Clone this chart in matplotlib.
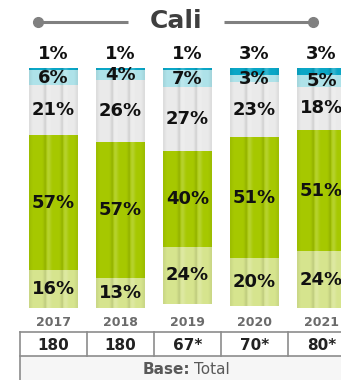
import numpy as np
import matplotlib
matplotlib.use("Agg")
import matplotlib.pyplot as plt
from matplotlib import transforms

# ---- data -------------------------------------------------------------
years = ["2017", "2018", "2019", "2020", "2021"]
bases = ["180", "180", "67*", "70*", "80*"]
# segments listed from the top of each bar downward
seg_top = [1, 1, 1, 3, 3]          # dark teal
seg_cyan = [6, 4, 7, 3, 5]         # light cyan
seg_gray = [21, 26, 27, 23, 18]    # light gray
seg_green = [57, 57, 40, 51, 51]   # green
seg_lgreen = [16, 13, 24, 20, 24]  # light green
title = "Cali"

colors = ["#0AA6C6", "#AEE2E9", "#EAEAEA", "#A6C800", "#D6E48E"]
segments = [seg_top, seg_cyan, seg_gray, seg_green, seg_lgreen]

W, H = 341, 380
fig = plt.figure(figsize=(W / 100, H / 100), dpi=100)
fig.patch.set_facecolor("white")

# decoration layer in pixel units (y grows downward)
deco = fig.add_axes([0, 0, 1, 1])
deco.set_xlim(0, W)
deco.set_ylim(H, 0)
deco.axis("off")

# bar layer: 0 % at the top, stacking downward
ax = fig.add_axes([20 / W, 62 / H, 335 / W, 250 / H])
ax.set_xlim(-0.5, 4.5)
ax.set_ylim(105, 0)
ax.axis("off")
ax.set_zorder(2)
ax.patch.set_alpha(0)

x = np.arange(len(years))
bw = 0.72
bottom = np.zeros(len(years))
for vals, col in zip(segments, colors):
    vals = np.array(vals, dtype=float)
    ax.bar(x, vals, bw, bottom=bottom, color=col, edgecolor="none", zorder=2)
    bottom += vals

# vertical shading stripes across each bar
prof_x = np.linspace(0, 1, 96)
shade = (0.10 * np.exp(-((prof_x - 0.33) / 0.035) ** 2)
         + 0.10 * np.exp(-((prof_x - 0.68) / 0.035) ** 2)
         + 0.06 * np.exp(-((prof_x - 0.0) / 0.05) ** 2)
         + 0.06 * np.exp(-((prof_x - 1.0) / 0.05) ** 2))
light = (0.18 * np.exp(-((prof_x - 0.40) / 0.05) ** 2)
         + 0.18 * np.exp(-((prof_x - 0.75) / 0.05) ** 2))
rgba = np.zeros((1, prof_x.size, 4))
rgba[0, :, :3] = np.where(shade[:, None] > light[:, None], 0.0, 1.0)
rgba[0, :, 3] = np.maximum(shade, light)
for xi, tot in zip(x, bottom):
    ax.imshow(rgba, extent=(xi - bw / 2, xi + bw / 2, tot, 0),
              aspect="auto", interpolation="bilinear", zorder=3)
ax.set_xlim(-0.5, 4.5)
ax.set_ylim(105, 0)

# value labels
lab_kw = dict(ha="center", va="center", fontsize=13, fontweight="bold",
              color="#111111", zorder=5)
for i in x:
    ax.annotate(f"{seg_top[i]}%", (i, 0), xytext=(0, 14),
                textcoords="offset pixels", annotation_clip=False, **lab_kw)
    start = seg_top[i]
    for vals in segments[1:]:
        v = vals[i]
        ax.text(i, start + v / 2, f"{v}%", clip_on=False, **lab_kw)
        start += v

# title with side rules
deco.text(176, 21, title, ha="center", va="center", fontsize=18,
          fontweight="bold", color="#3F3F3F")
deco.plot([38, 128], [22, 22], color="#808080", lw=2.2, solid_capstyle="butt")
deco.plot([224, 313], [22, 22], color="#808080", lw=2.2, solid_capstyle="butt")
deco.plot([38, 313], [22, 22], ls="none", marker="o", ms=7, color="#808080")

# year labels and base table
bt = transforms.blended_transform_factory(ax.transData, deco.transData)
for i, (yr, b) in enumerate(zip(years, bases)):
    deco.text(i, 322, yr, transform=bt, ha="center", va="center",
              fontsize=9, fontweight="bold", color="#6B6B6B")
    deco.text(i, 345, b, transform=bt, ha="center", va="center",
              fontsize=11, fontweight="bold", color="#222222")

line_kw = dict(color="#8C8C8C", lw=1.2, transform=bt)
deco.add_patch(plt.Rectangle((-0.5, 356), 6, 30, transform=bt,
                             facecolor="#F6F6F6", edgecolor="none", zorder=1))
deco.add_line(plt.Line2D([-0.5, 5.5], [332, 332], **line_kw))
deco.add_line(plt.Line2D([-0.5, 5.5], [356, 356], **line_kw))
deco.add_line(plt.Line2D([-0.5, -0.5], [332, 390], **line_kw))
for i in range(1, len(years) + 1):
    deco.add_line(plt.Line2D([i - 0.5, i - 0.5], [332, 356], **line_kw))

deco.text(190, 369, "Base:", ha="right", va="center", fontsize=11,
          fontweight="bold", color="#595959", zorder=4)
deco.text(194, 369, "Total", ha="left", va="center", fontsize=11,
          color="#595959", zorder=4)

fig.savefig("out.png", dpi=100)
